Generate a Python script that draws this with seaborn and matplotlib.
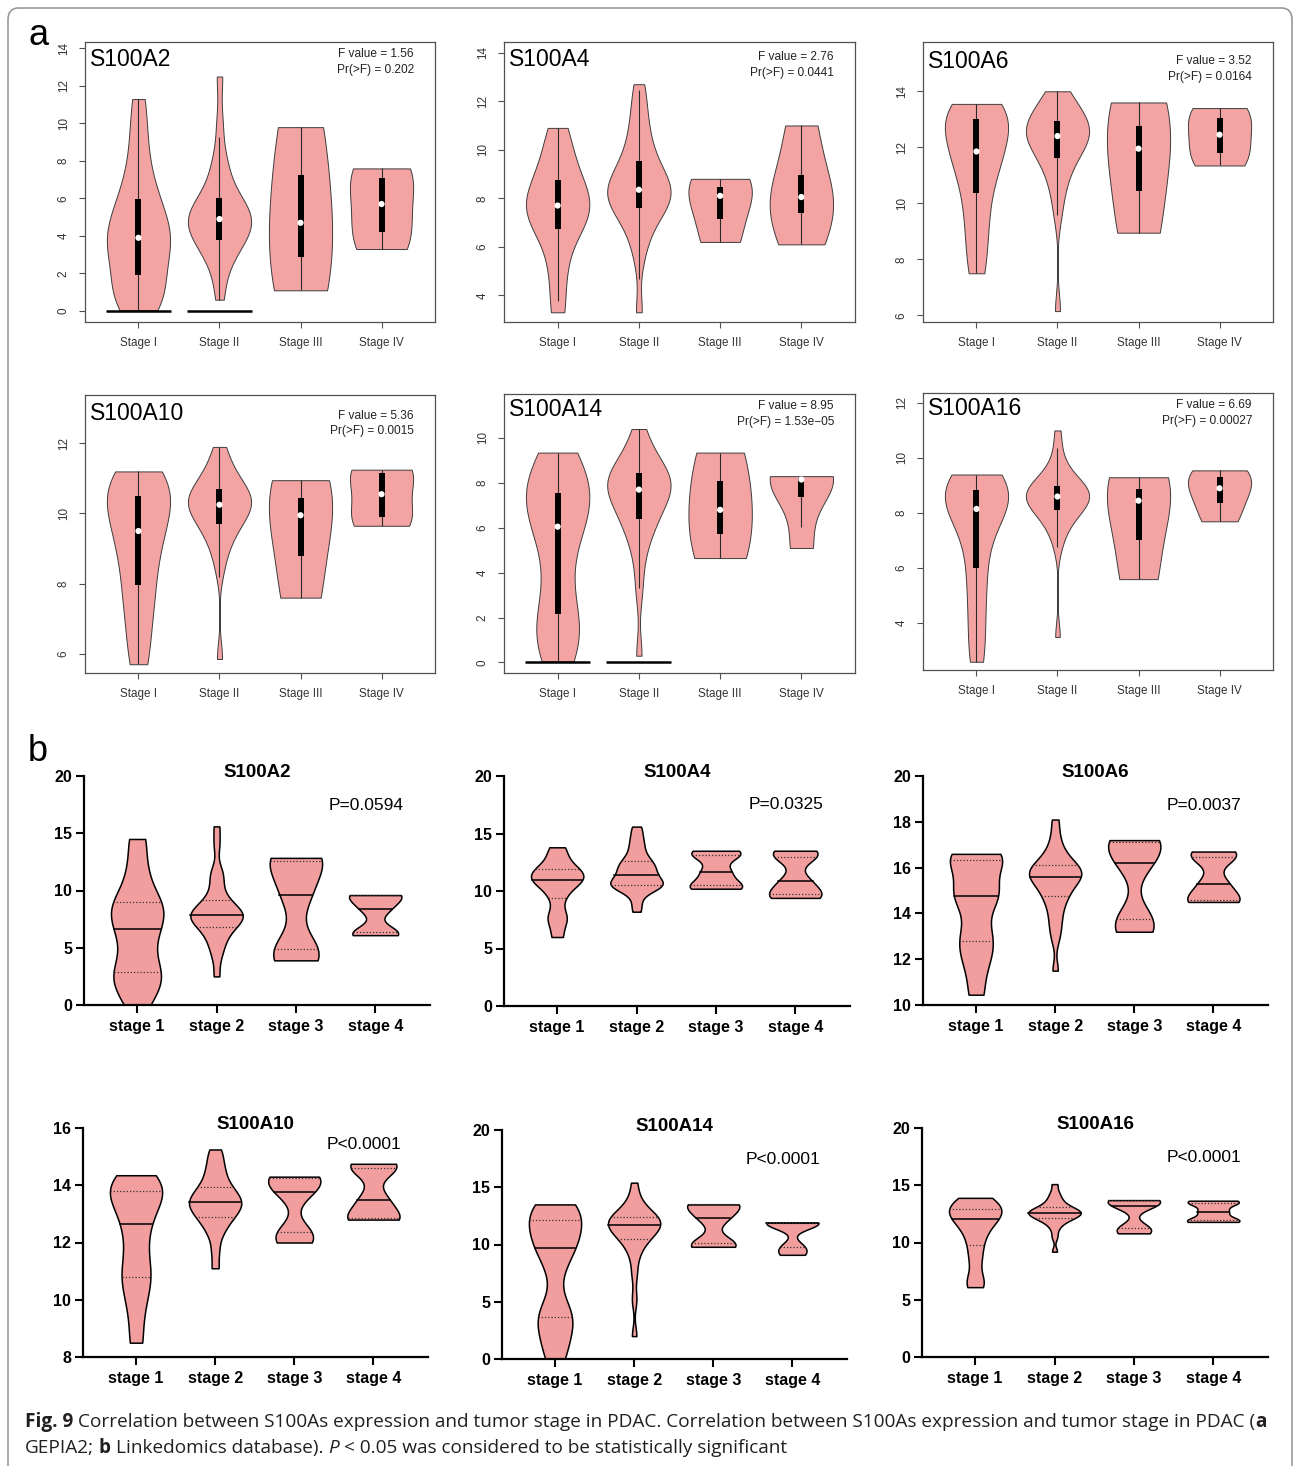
import numpy as np
import pandas as pd
import matplotlib
matplotlib.use("Agg")
import matplotlib.pyplot as plt
import seaborn as sns
from matplotlib.patches import FancyBboxPatch

# ---------------------------------------------------------------- data
GENES = ["S100A2", "S100A4", "S100A6", "S100A10", "S100A14", "S100A16"]
GEPIA_STAGES = ["Stage I", "Stage II", "Stage III", "Stage IV"]
LINKED_STAGES = ["stage 1", "stage 2", "stage 3", "stage 4"]

GEPIA_F = ["1.56", "2.76", "3.52", "5.36", "8.95", "6.69"]
GEPIA_P = ["0.202", "0.0441", "0.0164", "0.0015", "1.53e\u221205", "0.00027"]
LINKED_P = ["P=0.0594", "P=0.0325", "P=0.0037", "P<0.0001", "P<0.0001", "P<0.0001"]

# GEPIA2 log2(TPM+1) expression per stage (0.0 = not expressed)
gepia_S100A2 = [
    [0.0, 0.0, 0.0, 0.05, 0.3, 0.7, 1.1, 1.6, 2.2, 2.8, 3.3, 3.6, 3.9, 4.2, 4.6, 5.1, 5.7, 6.2, 7.0,
     8.2, 9.6, 11.3],
    [0.0] * 8 + [0.6, 1.8, 2.6, 3.1, 3.4, 3.6, 3.8, 4.1, 4.3, 4.5, 4.6, 4.75, 4.9, 5.0, 5.2, 5.4, 5.6,
                 5.8, 6.0, 6.4, 7.0, 7.6, 8.3, 10.0, 12.5],
    [1.1, 4.7, 9.8],
    [3.3, 4.5, 6.9, 7.6],
]
gepia_S100A4 = [
    [3.3, 4.8, 6.0, 6.75, 7.1, 7.4, 7.7, 8.0, 8.3, 8.75, 9.3, 10.0, 10.9],
    [3.3, 5.5, 6.3, 6.8, 7.1, 7.4, 7.6, 7.8, 7.95, 8.05, 8.15, 8.25, 8.35, 8.5, 8.7, 8.9, 9.1, 9.3,
     9.55, 9.9, 10.3, 10.8, 11.3, 12.0, 12.7],
    [6.2, 8.1, 8.8],
    [6.1, 7.83, 8.27, 11.0],
]
gepia_S100A6 = [
    [7.5, 8.6, 9.5, 10.35, 11.0, 11.5, 11.85, 12.2, 12.6, 13.0, 13.2, 13.4, 13.55],
    [6.15, 9.6, 10.3, 10.8, 11.1, 11.4, 11.6, 11.8, 11.95, 12.1, 12.2, 12.3, 12.4, 12.5, 12.6, 12.7,
     12.75, 12.85, 12.95, 13.1, 13.25, 13.4, 13.6, 13.8, 14.0],
    [8.95, 11.95, 13.6],
    [11.35, 11.95, 12.95, 13.4],
]
gepia_S100A10 = [
    [5.7, 6.6, 7.4, 7.95, 8.6, 9.1, 9.5, 9.9, 10.2, 10.5, 10.8, 11.0, 11.2],
    [5.85, 8.4, 8.9, 9.2, 9.4, 9.55, 9.7, 9.85, 9.95, 10.05, 10.12, 10.2, 10.25, 10.32, 10.4, 10.48,
     10.55, 10.62, 10.7, 10.8, 10.95, 11.1, 11.3, 11.55, 11.9],
    [7.6, 9.95, 10.95],
    [9.65, 9.98, 11.12, 11.25],
]
gepia_S100A14 = [
    [0.0, 0.0, 0.0, 0.05, 0.8, 1.5, 2.15, 3.5, 5.0, 6.05, 6.6, 7.1, 7.55, 8.1, 8.7, 9.35],
    [0.0] * 6 + [0.3, 3.2, 4.5, 5.3, 5.8, 6.1, 6.4, 6.65, 6.9, 7.1, 7.3, 7.5, 7.7, 7.8, 7.9, 8.0, 8.1,
                 8.25, 8.45, 8.6, 8.8, 9.0, 9.3, 9.8, 10.4],
    [4.65, 6.8, 9.35],
    [5.1, 8.1, 8.2, 8.3],
]
gepia_S100A16 = [
    [2.6, 3.8, 5.0, 6.0, 7.0, 7.7, 8.15, 8.4, 8.6, 8.85, 9.0, 9.2, 9.4],
    [3.5, 6.8, 7.3, 7.6, 7.8, 7.95, 8.1, 8.2, 8.3, 8.38, 8.45, 8.52, 8.6, 8.66, 8.72, 8.78, 8.85, 8.92,
     9.0, 9.1, 9.2, 9.4, 9.7, 10.2, 11.0],
    [5.6, 8.45, 9.3],
    [7.7, 8.57, 9.23, 9.55],
]

# LinkedOmics expression per stage
linked_S100A2 = [
    [0.0, 1.5, 2.2, 2.9, 4.0, 5.5, 6.65, 7.6, 8.2, 9.0, 10.0, 12.0, 14.5],
    [2.5, 4.2, 5.0, 5.6, 6.1, 6.5, 6.8, 7.1, 7.3, 7.5, 7.65, 7.75, 7.85, 7.95, 8.1, 8.3, 8.5, 8.8,
     9.2, 9.6, 10.5, 11.3, 11.7, 14.0, 15.6],
    [3.9, 4.9, 9.65, 12.55, 12.85],
    [6.1, 6.35, 8.4, 9.6, 9.6],
]
linked_S100A4 = [
    [6.0, 7.4, 7.9, 9.4, 10.3, 10.8, 11.0, 11.2, 11.5, 11.9, 12.0, 13.0, 13.8],
    [8.2, 9.0, 9.8, 10.1, 10.3, 10.4, 10.5, 10.6, 10.7, 10.8, 11.0, 11.2, 11.4, 11.6, 11.8, 12.0, 12.2,
     12.4, 12.6, 12.9, 13.3, 13.8, 14.3, 14.9, 15.6],
    [10.2, 10.5, 11.65, 13.1, 13.5],
    [9.4, 9.7, 10.85, 13.0, 13.5],
]
linked_S100A6 = [
    [10.45, 11.6, 12.3, 12.8, 13.3, 14.3, 14.75, 15.0, 15.3, 16.35, 16.4, 16.5, 16.6],
    [11.5, 12.9, 13.4, 13.8, 14.2, 14.5, 14.75, 14.9, 15.1, 15.25, 15.4, 15.5, 15.6, 15.7, 15.75, 15.8,
     15.9, 16.0, 16.1, 16.2, 16.4, 16.6, 16.9, 17.4, 18.1],
    [13.2, 13.75, 16.2, 17.1, 17.2],
    [14.5, 14.6, 15.3, 16.45, 16.7],
]
linked_S100A10 = [
    [8.5, 9.6, 10.4, 10.8, 11.3, 12.0, 12.65, 13.1, 13.5, 13.8, 13.9, 14.1, 14.35],
    [11.1, 11.7, 12.2, 12.45, 12.65, 12.8, 12.9, 13.0, 13.1, 13.2, 13.28, 13.34, 13.4, 13.48, 13.55,
     13.65, 13.75, 13.85, 13.95, 14.1, 14.3, 14.5, 14.7, 15.0, 15.25],
    [12.0, 12.35, 13.75, 14.25, 14.3],
    [12.8, 12.85, 13.5, 14.6, 14.75],
]
linked_S100A14 = [
    [0.0, 1.5, 3.0, 3.7, 4.5, 8.0, 9.7, 10.2, 10.8, 12.1, 12.6, 13.0, 13.5],
    [2.0, 5.2, 7.4, 8.8, 9.6, 10.1, 10.5, 10.7, 10.9, 11.1, 11.3, 11.5, 11.7, 11.8, 11.9, 12.0, 12.1,
     12.25, 12.4, 12.6, 12.8, 13.1, 13.5, 14.2, 15.4],
    [9.8, 10.1, 12.3, 13.5, 13.5],
    [9.1, 9.8, 11.85, 11.9, 11.9],
]
linked_S100A16 = [
    [6.1, 6.8, 8.5, 9.8, 10.8, 11.5, 12.05, 12.3, 12.6, 12.95, 13.2, 13.6, 13.9],
    [9.2, 10.5, 11.2, 11.6, 11.85, 12.0, 12.1, 12.2, 12.3, 12.4, 12.48, 12.55, 12.6, 12.66, 12.72,
     12.8, 12.88, 12.98, 13.1, 13.25, 13.45, 13.7, 14.0, 14.4, 15.1],
    [10.8, 11.3, 13.2, 13.7, 13.7],
    [11.8, 11.95, 12.7, 13.45, 13.65],
]

GEPIA_DATA = [gepia_S100A2, gepia_S100A4, gepia_S100A6, gepia_S100A10, gepia_S100A14, gepia_S100A16]
LINKED_DATA = [linked_S100A2, linked_S100A4, linked_S100A6, linked_S100A10, linked_S100A14, linked_S100A16]

# ---------------------------------------------------------------- style
W, H = 1295, 1466
FAMILY = ["Liberation Sans", "DejaVu Sans"]
plt.rcParams["font.family"] = FAMILY
GEPIA_FILL = "#F4A3A3"
LINKED_FILL = "#F29E9E"

fig = plt.figure(figsize=(W / 100, H / 100), dpi=100)
fig.patch.set_facecolor("white")


def px_axes(x0, y0, x1, y1):
    return fig.add_axes([x0 / W, 1 - y1 / H, (x1 - x0) / W, (y1 - y0) / H])


def long_frame(groups, stages, keep):
    rows = [(s, v) for s, vals in zip(stages, groups) for v in vals if keep(v)]
    return pd.DataFrame(rows, columns=["stage", "expr"])


def gepia_panel(ax, gene, groups, ylim, yticks, fval, pval, gene_y, fy):
    df = long_frame(groups, GEPIA_STAGES, lambda v: v > 0)
    # large cohorts (stage I/II) get a tighter kernel than the tiny stage III/IV groups
    for subset, bw in ((GEPIA_STAGES[:2], 0.72), (GEPIA_STAGES[2:], 1.0)):
        sns.violinplot(data=df[df["stage"].isin(subset)], x="stage", y="expr",
                       order=GEPIA_STAGES, cut=0, density_norm="width", width=0.78,
                       inner=None, color=GEPIA_FILL, saturation=1, linecolor="#3c3c3c",
                       linewidth=0.7, bw_adjust=bw, ax=ax)
    for i, vals in enumerate(groups):
        arr = np.asarray(vals, dtype=float)
        expr = arr[arr > 0]
        zeros = arr[arr == 0]
        if zeros.size:
            ax.hlines(zeros[0], i - 0.4, i + 0.4, color="black", lw=1.8, zorder=4)
        q1, med, q3 = np.percentile(expr, [25, 50, 75])
        iqr = q3 - q1
        lo = max(expr.min(), q1 - 1.5 * iqr)
        hi = min(expr.max(), q3 + 1.5 * iqr)
        ax.vlines(i, lo, hi, color="#2a2a2a", lw=0.8, zorder=3)
        ax.vlines(i, q1, q3, color="black", lw=4.3, zorder=4)
        ax.scatter([i], [med], s=20, color="white", edgecolor="none", zorder=5)
    ax.set_xlim(-0.66, 3.66)
    ax.set_ylim(*ylim)
    ax.set_yticks(yticks)
    ax.set_xlabel("")
    ax.set_ylabel("")
    for sp in ax.spines.values():
        sp.set_visible(True)
        sp.set_color("#505050")
        sp.set_linewidth(0.9)
    ax.tick_params(axis="both", direction="out", length=4, width=0.8, color="#505050",
                   labelsize=8.4, labelcolor="#333333")
    ax.tick_params(axis="x", pad=6.5)
    ax.tick_params(axis="y", pad=7, labelrotation=90)
    for lab in ax.get_yticklabels():
        lab.set_va("center")
    ax.text(0.015, gene_y, gene, transform=ax.transAxes, ha="left", va="baseline",
            fontsize=16.5, color="black")
    ax.text(0.94, fy, f"F value = {fval}", transform=ax.transAxes, ha="right",
            va="baseline", fontsize=8.6, color="#222222")
    ax.text(0.94, fy - 0.057, f"Pr(>F) = {pval}", transform=ax.transAxes, ha="right",
            va="baseline", fontsize=8.6, color="#222222")


def linked_panel(ax, gene, groups, ylim, yticks, ptxt, py):
    df = long_frame(groups, LINKED_STAGES, lambda v: True)
    n0 = len(ax.lines)
    sns.violinplot(data=df, x="stage", y="expr", order=LINKED_STAGES, cut=0,
                   density_norm="width", width=0.66, inner="quart", color=LINKED_FILL,
                   saturation=1, linecolor="black", linewidth=1.1, bw_adjust=0.55, ax=ax)
    inner = ax.lines[n0:]
    if len(inner) == 3 * len(groups):
        for k, ln in enumerate(inner):
            if k % 3 == 1:
                ln.set_linestyle("-")
                ln.set_linewidth(1.1)
                ln.set_color("black")
            else:
                ln.set_linestyle((0, (1.0, 1.6)))
                ln.set_linewidth(0.9)
                ln.set_color("#333333")
    ax.set_xlim(-0.67, 3.69)
    ax.set_ylim(*ylim)
    ax.set_yticks(yticks)
    ax.set_xlabel("")
    ax.set_ylabel("")
    for side in ("top", "right"):
        ax.spines[side].set_visible(False)
    for side in ("left", "bottom"):
        ax.spines[side].set_linewidth(1.6)
        ax.spines[side].set_color("black")
    ax.tick_params(axis="both", direction="out", length=6, width=1.5, color="black",
                   labelsize=11.5, labelcolor="black")
    ax.tick_params(axis="x", pad=4)
    ax.tick_params(axis="y", pad=2.5)
    for lab in ax.get_xticklabels() + ax.get_yticklabels():
        lab.set_fontweight("bold")
    ax.text(0.5, 1.015, gene, transform=ax.transAxes, ha="center", va="center",
            fontsize=13.5, fontweight="bold")
    ax.text(0.923, py, ptxt, transform=ax.transAxes, ha="right", va="center",
            fontsize=12.5)


# ---------------------------------------------------------------- panel a (GEPIA2)
gepia_boxes = [(85, 42, 435, 322), (504, 42, 855, 322), (923, 42, 1273, 322),
               (85, 395, 435, 673), (504, 394, 855, 673), (923, 393, 1273, 670)]
gepia_ylims = [(-0.59, 14.34), (2.9, 14.44), (5.76, 15.76),
               (5.45, 13.38), (-0.47, 11.96), (2.30, 12.36)]
gepia_ticks = [range(0, 15, 2), range(4, 15, 2), range(6, 15, 2),
               range(6, 13, 2), range(0, 11, 2), range(4, 13, 2)]
gepia_gene_y = [0.915, 0.914, 0.906, 0.909, 0.921, 0.922]
gepia_f_y = [0.945, 0.935, 0.92, 0.915, 0.946, 0.946]

for k in range(6):
    ax = px_axes(*gepia_boxes[k])
    gepia_panel(ax, GENES[k], GEPIA_DATA[k], gepia_ylims[k], list(gepia_ticks[k]),
                GEPIA_F[k], GEPIA_P[k], gepia_gene_y[k], gepia_f_y[k])

# ---------------------------------------------------------------- panel b (LinkedOmics)
linked_boxes = [(84, 776, 430, 1005), (504, 776, 850, 1006), (923, 776, 1268, 1005),
                (83, 1128, 428, 1357), (502, 1130, 847, 1359), (922, 1128, 1268, 1357)]
linked_ylims = [(0, 20), (0, 20), (10, 20), (8, 16), (0, 20), (0, 20)]
linked_ticks = [range(0, 21, 5), range(0, 21, 5), range(10, 21, 2),
                range(8, 17, 2), range(0, 21, 5), range(0, 21, 5)]
linked_p_y = [0.873, 0.874, 0.873, 0.927, 0.869, 0.869]

for k in range(6):
    ax = px_axes(*linked_boxes[k])
    linked_panel(ax, GENES[k], LINKED_DATA[k], linked_ylims[k], list(linked_ticks[k]),
                 LINKED_P[k], linked_p_y[k])

# ---------------------------------------------------------------- labels, caption, frame
fig.text(28 / W, 1 - 45 / H, "a", fontsize=26, ha="left", va="baseline")
fig.text(28 / W, 1 - 761 / H, "b", fontsize=26, ha="left", va="baseline")

renderer = fig.canvas.get_renderer()
CAP_FAMILY = ["Open Sans", "DejaVu Sans"]
CAP_SIZE = 13.7


def text_width(s, **kw):
    t = fig.text(0, 0, s, fontsize=CAP_SIZE, family=CAP_FAMILY, **kw)
    w = t.get_window_extent(renderer=renderer).width
    t.remove()
    return w


space_w = text_width("a a") - text_width("aa")


def draw_runs(x_px, y_px, runs):
    x = x_px
    for text, weight, style, gap in runs:
        if gap:
            x += space_w
        t = fig.text(x / W, 1 - y_px / H, text, fontsize=CAP_SIZE, family=CAP_FAMILY,
                     fontweight=weight, fontstyle=style, ha="left", va="baseline",
                     color="#231f20")
        x += t.get_window_extent(renderer=renderer).width


draw_runs(25, 1427, [
    ("Fig. 9", "bold", "normal", False),
    ("Correlation between S100As expression and tumor stage in PDAC. Correlation between "
     "S100As expression and tumor stage in PDAC (", "normal", "normal", True),
    ("a", "bold", "normal", False),
])
draw_runs(25, 1453, [
    ("GEPIA2;", "normal", "normal", False),
    ("b", "bold", "normal", True),
    ("Linkedomics database).", "normal", "normal", True),
    ("P", "normal", "italic", True),
    ("< 0.05 was considered to be statistically significant", "normal", "normal", True),
])

frame = FancyBboxPatch((8 / W, -0.01), 1284 / W, 1 - 8 / H + 0.01,
                       boxstyle="round,pad=0,rounding_size=0.008",
                       transform=fig.transFigure, fill=False, ec="#9a9a9a", lw=1.2)
fig.patches.append(frame)

fig.savefig("out.png", dpi=100, facecolor="white")
